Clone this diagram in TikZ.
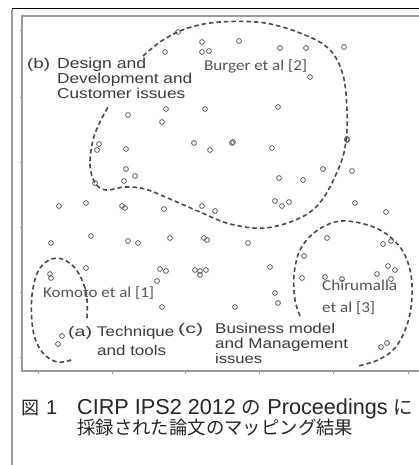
\documentclass[tikz,border=0pt]{standalone}
\usepackage{fontspec}
\usepackage{graphicx}
\newfontfamily\labfont[FakeStretch=1.2]{Liberation Sans}
\newfontfamily\reffont[FakeStretch=1.13]{Carlito}
\newfontfamily\capfont{Liberation Sans}
\newfontfamily\cjkfont{Noto Sans CJK JP}
\definecolor{dotgray}{HTML}{5A5A5A}
\definecolor{dashgray}{HTML}{4A4A4A}
\definecolor{labgray}{HTML}{3A3A3A}
\definecolor{refgray}{HTML}{555555}
\definecolor{framegray}{HTML}{9A9A9A}
\newcommand{\fitw}[2]{\resizebox{#1pt}{!}{#2}}
\newcommand{\fitwonly}[2]{\resizebox{#1pt}{\height}{#2}}
\begin{document}
\begin{tikzpicture}[x=1pt,y=-1pt,
  dotmark/.style={circle,draw=dotgray,line width=0.8pt,inner sep=0pt,minimum size=4.8pt},
  lab/.style={anchor=base west,inner sep=0pt,text=labgray,font=\labfont\fontsize{14}{16}\selectfont},
  reftext/.style={anchor=base west,inner sep=0pt,text=refgray,font=\reffont\fontsize{15}{17}\selectfont},
  region/.style={draw=dashgray,line width=1.6pt,dash pattern=on 4.5pt off 3pt},
  frameline/.style={draw=framegray,line width=1.5pt},
  tickmark/.style={draw=framegray,line width=0.6pt},
  captext/.style={anchor=base west,inner sep=0pt,text=black!85}]
\useasboundingbox (0,0) rectangle (419,465);
\fill[white] (0,0) rectangle (419,465);
% outer frame
\draw[black,line width=1pt] (12,9) -- (419,9);
\draw[frameline] (12,9) -- (12,465);
% plot box
\draw[frameline] (419,16) -- (22,16) -- (22,371) -- (419,371);
\foreach \y in {30,97,162,227,292,357} \draw[tickmark] (19.5,\y) -- (22,\y);
\foreach \x in {38,112,185,259,333,408} \draw[tickmark] (\x,371) -- (\x,374);
% points
\foreach \px/\py [count=\i] in {
 202/42,202/52,209/51,165/52,178/32,239/41,280/48,306/48,344/47,310/77,
 166/109,162/122,128/115,205/109,278/107,
 99/144,97/150,126/149,194/143,210/150,232/143,233/142,272/148,347/139,347/140,
 126/169,135/176,124/181,95/183,
 279/178,303/180,323/169,352/171,
 86/203,59/206,122/206,125/208,164/209,202/206,215/211,275/201,282/206,289/202,355/203,386/212,
 51/243,91/236,128/241,138/243,170/238,204/238,207/240,248/243,327/238,383/244,391/241,
 304/256,
 86/268,50/274,51/278,160/269,166/271,157/281,195/270,200/271,206/270,200/275,270/267,302/278,388/266,395/270,
 325/277,342/279,377/274,391/279,
 275/293,278/303,235/307,162/307,
 62/336,58/344,381/347,387/343}
 \node[dotmark] (p\i) at (\px,\py) {};
% regions
\draw[region] plot[smooth,tension=0.6] coordinates {
 (143,56) (163,40) (188,28) (220,22) (265,23) (305,35) (330,50) (343,75)
 (347,110) (346,140) (340,165) (322,200) (300,218) (265,228) (230,224)
 (200,212) (170,199) (145,189) (125,187) (106,190) (95,183) (90,165)
 (93,140) (100,122) (108,107)};
\draw[region] plot[smooth,tension=0.6] coordinates {
 (87,318) (86,292) (75,268) (57,258) (40,268) (32,295) (33,330) (42,352)
 (57,362) (71,360)};
\draw[region] plot[smooth,tension=0.6] coordinates {
 (300,316) (295,300) (294,275) (300,250) (315,232) (335,222) (355,222)
 (380,230) (400,247) (410,270) (412,297) (407,325) (395,348) (378,360) (358,366)};
% labels
\node[lab] (b0) at (27,69) {\fitwonly{23}{(b)}};
\node[lab] (b1) at (57,69) {\fitw{89}{Design and}};
\node[lab] (b2) at (57,84) {\fitw{135}{Development and}};
\node[lab] (b3) at (57,99) {\fitw{128}{Customer issues}};
\node[lab] (a0) at (68,336) {\fitwonly{24}{(a)}};
\node[lab] (a1) at (97,336) {\fitw{77}{Technique}};
\node[lab] (a2) at (97,355) {\fitw{69}{and tools}};
\node[lab] (c0) at (178,333) {\fitwonly{25}{(c)}};
\node[lab] (c1) at (215,333) {\fitw{120}{Business model}};
\node[lab] (c2) at (215,348) {\fitw{133}{and Management}};
\node[lab] (c3) at (215,363) {\fitw{47}{issues}};
\node[reftext] (r2) at (204,71) {\fitw{103}{Burger et al [2]}};
\node[reftext] (r1) at (43,297) {\fitw{111}{Komoto et al [1]}};
\node[reftext] (r3a) at (322,290) {\fitw{75}{Chirumalla}};
\node[reftext] (r3b) at (322,312) {\fitw{53}{et al [3]}};
% caption
\node[captext] (fig) at (21,414) {{\cjkfont\fontsize{18}{20}\selectfont 図}\hspace{7pt}{\capfont\fontsize{20}{24}\selectfont 1}};
\node[captext] (cap1) at (77,414) {\fitw{336}{\capfont\fontsize{20}{24}\selectfont CIRP IPS2 2012 {\cjkfont\fontsize{18}{20}\selectfont の} Proceedings {\cjkfont\fontsize{18}{20}\selectfont に}}};
\node[captext] (cap2) at (77,434) {\fitw{276}{\cjkfont\fontsize{18}{20}\selectfont 採録された論文のマッピング結果}};
\end{tikzpicture}
\end{document}
